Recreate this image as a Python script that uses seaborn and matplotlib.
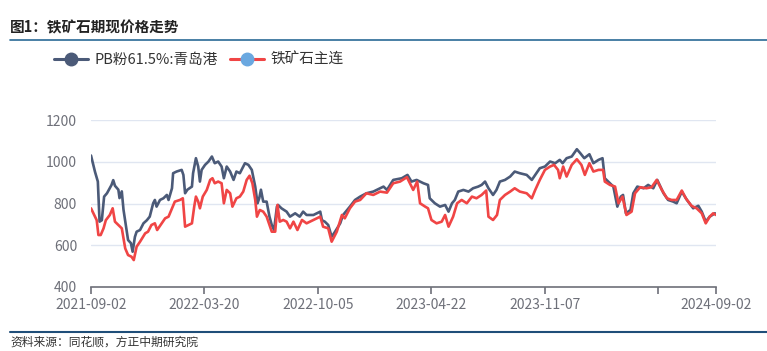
import matplotlib
matplotlib.use("Agg")
import matplotlib.pyplot as plt
from matplotlib.lines import Line2D
import seaborn as sns
import pandas as pd

sns.set_theme(style="white")
plt.rcParams['font.family'] = ['Noto Sans CJK SC', 'DejaVu Sans']

title = "图1：铁矿石期现价格走势"
source = "资料来源：同花顺，方正中期研究院"
series_names = ["PB粉61.5%:青岛港", "铁矿石主连"]
x_tick_dates = ["2021-09-02", "2022-03-20", "2022-10-05", "2023-04-22", "2023-11-07", "2024-05-24", "2024-09-02"]
x_tick_labels = ["2021-09-02", "2022-03-20", "2022-10-05", "2023-04-22", "2023-11-07", "", "2024-09-02"]
y_ticks = [400, 600, 800, 1000, 1200]

pb_dates = [
    "2021-09-02", "2021-09-09", "2021-09-14", "2021-09-17", "2021-09-21", "2021-09-25", "2021-09-30",
    "2021-10-08", "2021-10-11", "2021-10-14", "2021-10-20", "2021-10-22", "2021-10-26", "2021-10-29",
    "2021-11-02", "2021-11-06", "2021-11-11", "2021-11-14", "2021-11-18", "2021-11-21", "2021-11-27",
    "2021-12-03", "2021-12-09", "2021-12-14", "2021-12-20", "2021-12-23", "2021-12-26",
    "2022-01-01", "2022-01-07", "2022-01-13", "2022-01-16", "2022-01-22", "2022-01-24", "2022-01-30",
    "2022-02-08", "2022-02-11", "2022-02-14", "2022-02-18", "2022-02-26", "2022-02-28",
    "2022-03-05", "2022-03-09", "2022-03-12", "2022-03-15", "2022-03-21", "2022-03-27",
    "2022-04-02", "2022-04-07", "2022-04-13", "2022-04-19", "2022-04-23", "2022-04-28",
    "2022-05-04", "2022-05-10", "2022-05-15", "2022-05-21", "2022-05-30",
    "2022-06-05", "2022-06-11", "2022-06-17", "2022-06-21", "2022-06-24", "2022-06-27",
    "2022-07-01", "2022-07-07", "2022-07-12", "2022-07-16", "2022-07-20", "2022-07-25", "2022-07-27",
    "2022-08-02", "2022-08-11", "2022-08-17", "2022-08-26",
    "2022-09-03", "2022-09-09", "2022-09-15", "2022-09-27",
    "2022-10-09", "2022-10-12", "2022-10-17", "2022-10-23", "2022-10-29",
    "2022-11-04", "2022-11-13", "2022-11-18", "2022-11-30",
    "2022-12-09", "2022-12-18", "2022-12-29",
    "2023-01-10", "2023-01-22", "2023-01-28", "2023-02-03", "2023-02-14",
    "2023-03-01", "2023-03-11", "2023-03-18", "2023-03-27",
    "2023-04-08", "2023-04-16", "2023-04-19", "2023-04-28",
    "2023-05-07", "2023-05-16", "2023-05-22", "2023-05-28",
    "2023-06-02", "2023-06-08", "2023-06-17", "2023-06-26",
    "2023-07-04", "2023-07-13", "2023-07-19", "2023-07-25", "2023-07-31",
    "2023-08-08", "2023-08-14", "2023-08-20", "2023-08-29",
    "2023-09-07", "2023-09-15", "2023-09-24",
    "2023-10-06", "2023-10-15", "2023-10-21", "2023-10-29",
    "2023-11-07", "2023-11-16", "2023-11-25",
    "2023-12-03", "2023-12-08", "2023-12-15", "2023-12-24",
    "2024-01-02", "2024-01-08", "2024-01-15", "2024-01-24", "2024-01-31",
    "2024-02-09", "2024-02-16", "2024-02-20", "2024-02-26",
    "2024-03-06", "2024-03-13", "2024-03-19", "2024-03-23", "2024-03-28",
    "2024-04-05", "2024-04-10", "2024-04-17", "2024-04-28",
    "2024-05-06", "2024-05-15", "2024-05-22",
    "2024-06-02", "2024-06-10", "2024-06-19", "2024-06-25",
    "2024-07-04", "2024-07-13", "2024-07-24",
    "2024-08-02", "2024-08-08", "2024-08-15", "2024-08-22", "2024-08-31", "2024-09-02",
]
pb_values = [
    1030, 952, 905, 713, 720, 833, 849,
    889, 912, 885, 866, 826, 858, 770,
    697, 625, 610, 569, 640, 665, 673,
    705, 720, 737, 801, 817, 785,
    817, 825, 841, 817, 873, 945, 953,
    961, 937, 849, 866, 881, 945,
    1017, 977, 905, 961, 985, 1001,
    1025, 993, 1001, 977, 921, 977,
    953, 913, 953, 945, 993,
    985, 961, 881, 801, 825, 866,
    809, 809, 737, 697, 673, 785, 793,
    777, 761, 737, 753,
    737, 761, 745, 745,
    761, 720, 713, 697, 641,
    665, 705, 745, 785,
    817, 833, 849,
    857, 873, 881, 865, 913,
    921, 937, 905, 913,
    897, 889, 825, 801,
    785, 793, 761, 801,
    817, 857, 865, 857,
    873, 881, 889, 905, 873,
    841, 865, 905, 913,
    929, 953, 945,
    937, 913, 937, 969,
    977, 1001, 993,
    1009, 993, 1017, 1025,
    1060, 1041, 1017, 1036, 993,
    1009, 1017, 921, 905,
    881, 785, 833, 841, 753,
    769, 849, 881, 873,
    889, 873, 913,
    849, 817, 809, 801,
    857, 817, 777,
    789, 761, 713, 737, 753, 750,
]

fut_dates = [
    "2021-09-02", "2021-09-09", "2021-09-12", "2021-09-15", "2021-09-19", "2021-09-24", "2021-09-28",
    "2021-10-05", "2021-10-10", "2021-10-14", "2021-10-20", "2021-10-26",
    "2021-11-01", "2021-11-06", "2021-11-12", "2021-11-16", "2021-11-21", "2021-11-27",
    "2021-12-06", "2021-12-11", "2021-12-17", "2021-12-23", "2021-12-27",
    "2022-01-04", "2022-01-10", "2022-01-16", "2022-01-22", "2022-01-27",
    "2022-02-05", "2022-02-10", "2022-02-14", "2022-02-20", "2022-02-26",
    "2022-03-02", "2022-03-05", "2022-03-09", "2022-03-12", "2022-03-17", "2022-03-24", "2022-03-30",
    "2022-04-03", "2022-04-07", "2022-04-13", "2022-04-19", "2022-04-23", "2022-04-28",
    "2022-05-04", "2022-05-08", "2022-05-15", "2022-05-21", "2022-05-27",
    "2022-06-02", "2022-06-07", "2022-06-12", "2022-06-17", "2022-06-20", "2022-06-25",
    "2022-07-01", "2022-07-07", "2022-07-12", "2022-07-16", "2022-07-22", "2022-07-26", "2022-07-30",
    "2022-08-05", "2022-08-11", "2022-08-17", "2022-08-23", "2022-08-30",
    "2022-09-07", "2022-09-15", "2022-09-27",
    "2022-10-09", "2022-10-14", "2022-10-23", "2022-10-29",
    "2022-11-07", "2022-11-16", "2022-11-21", "2022-11-30",
    "2022-12-09", "2022-12-18", "2022-12-29",
    "2023-01-10", "2023-01-22", "2023-02-03", "2023-02-14", "2023-02-26",
    "2023-03-10", "2023-03-21", "2023-03-28",
    "2023-04-02", "2023-04-11", "2023-04-16", "2023-04-22",
    "2023-05-01", "2023-05-10", "2023-05-16", "2023-05-22", "2023-05-30",
    "2023-06-06", "2023-06-14", "2023-06-23",
    "2023-07-02", "2023-07-10", "2023-07-19", "2023-07-27", "2023-07-31",
    "2023-08-08", "2023-08-15", "2023-08-20", "2023-08-29",
    "2023-09-07", "2023-09-15", "2023-09-24",
    "2023-10-06", "2023-10-15", "2023-10-21", "2023-10-29",
    "2023-11-07", "2023-11-16", "2023-11-23", "2023-11-30",
    "2023-12-03", "2023-12-09", "2023-12-15", "2023-12-24",
    "2024-01-02", "2024-01-10", "2024-01-16", "2024-01-24", "2024-01-31",
    "2024-02-09", "2024-02-17", "2024-02-20", "2024-02-29",
    "2024-03-09", "2024-03-15", "2024-03-22", "2024-03-29",
    "2024-04-07", "2024-04-13", "2024-04-22",
    "2024-05-03", "2024-05-12", "2024-05-21", "2024-05-30",
    "2024-06-08", "2024-06-16", "2024-06-25",
    "2024-07-04", "2024-07-11", "2024-07-21", "2024-07-30",
    "2024-08-08", "2024-08-15", "2024-08-22", "2024-08-28", "2024-09-02",
]
fut_values = [
    777, 737, 720, 649, 649, 681, 720,
    745, 777, 713, 697, 681,
    585, 553, 545, 529, 593, 617,
    657, 665, 697, 705, 673,
    705, 729, 737, 777, 809,
    817, 825, 689, 697, 705,
    785, 833, 809, 777, 833, 865, 913,
    921, 897, 905, 897, 801, 865,
    849, 785, 825, 833, 857,
    913, 933, 897, 817, 737, 769,
    761, 737, 697, 665, 665, 793, 713,
    721, 713, 681, 713, 673,
    721, 705, 721,
    737, 689, 681, 617,
    665, 745, 729, 777,
    809, 817, 849,
    841, 857, 852, 897, 905,
    926, 865, 905,
    801, 785, 777, 721,
    705, 713, 745, 689, 737,
    801, 817, 801,
    833, 825, 841, 862, 737,
    721, 745, 817, 841,
    857, 873, 857,
    849, 825, 865, 913,
    961, 977, 985, 961,
    921, 977, 929, 985,
    1012, 985, 937, 993, 953,
    961, 961, 905, 889,
    881, 801, 833, 745,
    761, 849, 878,
    873, 878, 913, 865,
    825, 817, 817,
    862, 825, 789, 777,
    753, 705, 737, 753, 745,
]

pb_df = pd.DataFrame({"date": pd.to_datetime(pb_dates), "value": pb_values})
fut_df = pd.DataFrame({"date": pd.to_datetime(fut_dates), "value": fut_values})

dark = "#4b5a78"
red = "#f04545"
grid_c = "#e0e6f1"
axis_c = "#6e7079"
label_c = "#6e7079"

fig = plt.figure(figsize=(7.67, 3.51), dpi=100)
ax = fig.add_axes([91 / 767, 1 - 287 / 351, (716 - 91) / 767, (287 - 120) / 351])

sns.lineplot(data=pb_df, x="date", y="value", ax=ax, color=dark, linewidth=1.9)
sns.lineplot(data=fut_df, x="date", y="value", ax=ax, color=red, linewidth=1.9)

ax.set_xlim(pd.Timestamp("2021-09-02"), pd.Timestamp("2024-09-02"))
ax.set_ylim(400, 1200)
ax.set_yticks(y_ticks)
ax.set_yticklabels([str(v) for v in y_ticks], color=label_c, fontsize=10)
ax.set_xticks(pd.to_datetime(x_tick_dates))
ax.set_xticklabels(x_tick_labels, color=label_c, fontsize=10)
ax.set_xlabel("")
ax.set_ylabel("")
ax.grid(axis="y", color=grid_c, linewidth=1)
ax.grid(axis="x", visible=False)
for s in ["top", "right", "left"]:
    ax.spines[s].set_visible(False)
ax.spines["bottom"].set_color(axis_c)
ax.spines["bottom"].set_linewidth(1.2)
ax.tick_params(axis="x", which="both", bottom=True, length=5, width=1.2, color=axis_c, pad=3)
ax.tick_params(axis="y", length=0, pad=10)

# title and rules
fig.text(10 / 767, 1 - 27 / 351, title, fontsize=10.5, fontweight="bold", color="#222222",
         ha="left", va="center")
fig.add_artist(Line2D([10 / 767, 1.0], [1 - 40 / 351, 1 - 40 / 351], color="#2a6a96", linewidth=1.2))
fig.add_artist(Line2D([10 / 767, 1.0], [1 - 332 / 351, 1 - 332 / 351], color="#1f4e79", linewidth=1.5))
fig.text(10 / 767, 1 - 342 / 351, source, fontsize=8.5, color="#333333", ha="left", va="center",
         style="italic")

handles = [
    Line2D([0], [0], color=dark, linewidth=2.2, marker="o", markersize=9,
           markerfacecolor=dark, markeredgecolor=dark),
    Line2D([0], [0], color=red, linewidth=2.2, marker="o", markersize=9,
           markerfacecolor="#6aa8e0", markeredgecolor="#6aa8e0"),
]
fig.legend(handles, series_names, loc="center left", bbox_to_anchor=(41 / 767, 1 - 60 / 351),
           ncol=2, frameon=False, fontsize=10.5, handlelength=2.3, handletextpad=0.5,
           columnspacing=0.8, labelcolor="#333333")

fig.savefig("out.png", dpi=100)
